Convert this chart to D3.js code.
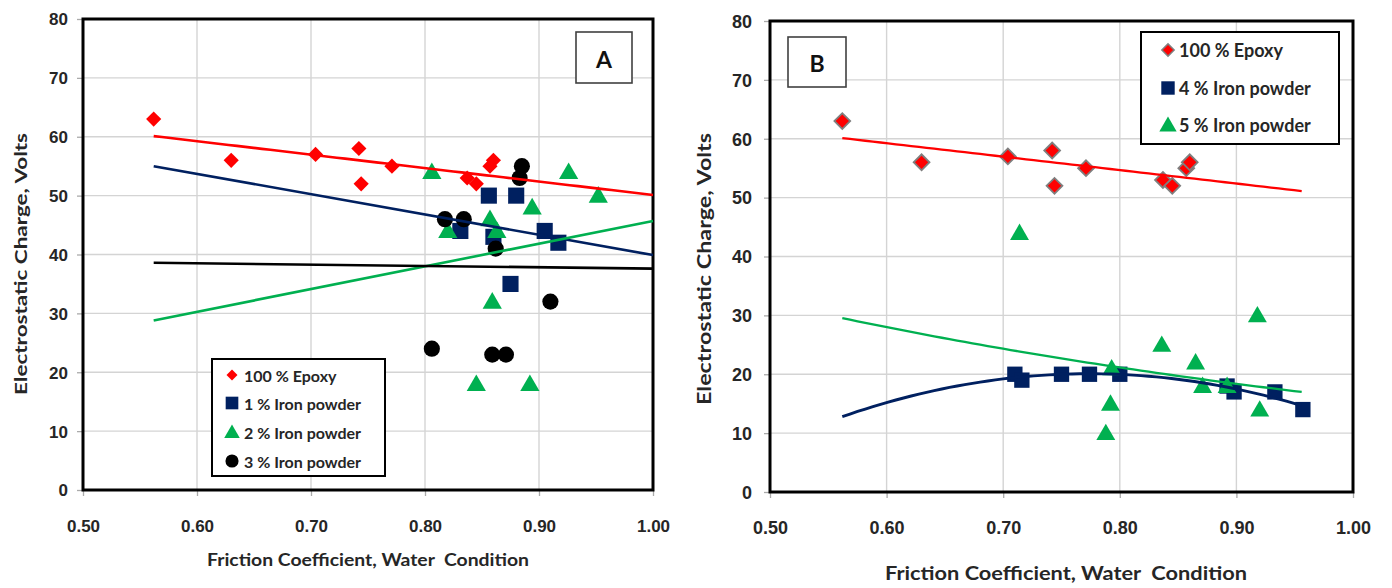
<!DOCTYPE html>
<html><head><meta charset="utf-8">
<script src="https://cdn.jsdelivr.net/npm/d3@7"></script>
<style>
body{margin:0;background:#fff;}
svg{display:block;font-family:Lato,'Open Sans',sans-serif;font-weight:700;}
</style>
</head><body>
<svg id="c" width="1392" height="588"></svg>
<script>
// ---------- data ----------
const xTicks = [0.50, 0.60, 0.70, 0.80, 0.90, 1.00];
const yTicks = [0, 10, 20, 30, 40, 50, 60, 70, 80];

const epoxyX = [0.562, 0.630, 0.704, 0.742, 0.744, 0.771, 0.837, 0.845, 0.857, 0.860];
const epoxyY = [63, 56, 57, 58, 52, 55, 53, 52, 55, 56];

// Panel A
const fe1X = [0.856, 0.880, 0.831, 0.860, 0.905, 0.917, 0.875];
const fe1Y = [50, 50, 44, 43, 44, 42, 35];
const fe2X = [0.806, 0.926, 0.952, 0.894, 0.857, 0.820, 0.863, 0.859, 0.845, 0.892];
const fe2Y = [54, 54, 50, 48, 46, 44, 44, 32, 18, 18];
const fe3X = [0.885, 0.883, 0.8175, 0.834, 0.862, 0.910, 0.806, 0.859, 0.871];
const fe3Y = [55, 53, 46, 46, 41, 32, 24, 23, 23];
// Panel A trend lines (start/end values)
const trendXA = [0.562, 1.00];
const trendFe1A = [55.0, 39.9];
const trendFe2A = [28.8, 45.7];
const trendFe3A = [38.6, 37.6];

// Panel B
const fe4X = [0.710, 0.716, 0.750, 0.774, 0.800, 0.892, 0.898, 0.933, 0.957];
const fe4Y = [20, 19, 20, 20, 20, 18, 17, 17, 14];
const fe5X = [0.714, 0.918, 0.836, 0.865, 0.793, 0.792, 0.788, 0.871, 0.892, 0.920];
const fe5Y = [44, 30, 25, 22, 21, 15, 10, 18, 18, 14];
const trendXB = [0.562, 0.956];

const legendA = ["100 % Epoxy", "1 % Iron powder", "2 % Iron powder", "3 % Iron powder"];
const legendB = ["100 % Epoxy", "4 % Iron powder", "5 % Iron powder"];
const xTitle = "Friction Coefficient, Water\u00a0\u00a0Condition";
const yTitle = "Electrostatic Charge, Volts";

// ---------- helpers ----------
const RED = "#ff0000", NAVY = "#002060", GREEN = "#00b050", BLACK = "#000000";
function linFit(xs, ys) {
  const n = xs.length, mx = d3.mean(xs), my = d3.mean(ys);
  let sxy = 0, sxx = 0;
  for (let i = 0; i < n; i++) { sxy += (xs[i]-mx)*(ys[i]-my); sxx += (xs[i]-mx)**2; }
  const b = sxy/sxx; return x => my + b*(x-mx);
}
function expFit(xs, ys) {
  const f = linFit(xs, ys.map(Math.log)); return x => Math.exp(f(x));
}
function quadFit(xs, ys) {
  const s = k => d3.sum(xs, x => x**k);
  const t = k => d3.sum(xs, (x,i) => x**k*ys[i]);
  const M = [[s(0),s(1),s(2),t(0)],[s(1),s(2),s(3),t(1)],[s(2),s(3),s(4),t(2)]];
  for (let i = 0; i < 3; i++) {
    for (let j = i+1; j < 3; j++) {
      const r = M[j][i]/M[i][i];
      for (let k = i; k < 4; k++) M[j][k] -= r*M[i][k];
    }
  }
  const c = [0,0,0];
  for (let i = 2; i >= 0; i--) {
    let v = M[i][3]; for (let k = i+1; k < 3; k++) v -= M[i][k]*c[k];
    c[i] = v/M[i][i];
  }
  return x => c[0] + c[1]*x + c[2]*x*x;
}
function shape(g, type, cx, cy, size, fill, stroke, sw) {
  let p;
  if (type === "diamond") {
    p = g.append("path").attr("d", d3.symbol(d3.symbolSquare, size)())
      .attr("transform", `translate(${cx},${cy}) rotate(45)`);
  } else {
    const t = {square: d3.symbolSquare, triangle: d3.symbolTriangle, circle: d3.symbolCircle}[type];
    p = g.append("path").attr("d", d3.symbol(t, size)())
      .attr("transform", `translate(${cx},${cy + (type==="triangle" ? 1.5 : 0)})`);
  }
  p.attr("fill", fill);
  if (stroke) p.attr("stroke", stroke).attr("stroke-width", sw);
  return p;
}

const svg = d3.select("#c");

function panel(cfg) {
  const g = svg.append("g");
  const x = d3.scaleLinear().domain([0.5, 1.0]).range([cfg.x0, cfg.x1]);
  const y = d3.scaleLinear().domain([0, 80]).range([cfg.y1, cfg.y0]);
  // grid
  g.append("g").selectAll("line").data(xTicks.slice(1, -1)).join("line")
    .attr("x1", d => x(d)).attr("x2", d => x(d)).attr("y1", cfg.y0).attr("y2", cfg.y1)
    .attr("stroke", "#d4d4d4").attr("stroke-width", 1.4);
  g.append("g").selectAll("line").data(yTicks.slice(1, -1)).join("line")
    .attr("y1", d => y(d)).attr("y2", d => y(d)).attr("x1", cfg.x0).attr("x2", cfg.x1)
    .attr("stroke", "#d4d4d4").attr("stroke-width", 1.4);
  // axes
  const ax = g.append("g").attr("transform", `translate(0,${cfg.y1})`)
    .call(d3.axisBottom(x).tickValues(xTicks).tickFormat(d3.format(".2f")).tickSize(6).tickPadding(0));
  const ay = g.append("g").attr("transform", `translate(${cfg.x0},0)`)
    .call(d3.axisLeft(y).tickValues(yTicks).tickFormat(d3.format("d")).tickSize(6).tickPadding(cfg.yPad));
  [ax, ay].forEach(a => {
    a.select(".domain").remove();
    a.selectAll(".tick line").attr("stroke", "#aaaaaa").attr("stroke-width", 1.3);
    a.selectAll("text").attr("font-family", null).attr("font-size", cfg.tickFont)
      .attr("fill", "#262626").attr("font-weight", 700);
  });
  ax.selectAll("text").attr("y", cfg.xLabDy).attr("dy", "0.35em");
  ay.selectAll("text").attr("dy", "0.35em");
  // frame
  g.append("rect").attr("x", cfg.x0).attr("y", cfg.y0)
    .attr("width", cfg.x1 - cfg.x0).attr("height", cfg.y1 - cfg.y0)
    .attr("fill", "none").attr("stroke", "#000").attr("stroke-width", 3);
  // titles
  g.append("text").attr("x", cfg.xtX).attr("y", cfg.xtY).attr("text-anchor", "middle")
    .attr("dominant-baseline", "central").attr("font-size", cfg.xtFont).attr("fill", "#262626")
    .attr("textLength", cfg.xtLen).attr("lengthAdjust", "spacingAndGlyphs").text(xTitle);
  g.append("text").attr("transform", `translate(${cfg.ytX},${cfg.ytY}) rotate(-90)`)
    .attr("text-anchor", "middle").attr("dominant-baseline", "central")
    .attr("font-size", cfg.ytFont).attr("fill", "#262626")
    .attr("textLength", cfg.ytLen).attr("lengthAdjust", "spacingAndGlyphs").text(yTitle);
  // label box
  g.append("rect").attr("x", cfg.lb[0]).attr("y", cfg.lb[1]).attr("width", cfg.lb[2]).attr("height", cfg.lb[3])
    .attr("fill", "#fff").attr("stroke", "#404040").attr("stroke-width", 1.6);
  g.append("text").attr("x", cfg.lb[0] + cfg.lb[2]/2).attr("y", cfg.lb[1] + cfg.lb[3]/2 + 1)
    .attr("text-anchor", "middle").attr("dominant-baseline", "central")
    .attr("font-size", 23).attr("fill", "#111").text(cfg.letter);
  return {g, x, y};
}

function scatter(p, xs, ys, type, size, fill, stroke, sw) {
  const grp = p.g.append("g");
  xs.forEach((xv, i) => shape(grp, type, p.x(xv), p.y(ys[i]), size, fill, stroke, sw));
}
function trend(p, f, dom, color, w) {
  const xs = d3.range(0, 61).map(i => dom[0] + (dom[1]-dom[0])*i/60);
  p.g.append("path").datum(xs)
    .attr("d", d3.line().x(d => p.x(d)).y(d => p.y(f(d))))
    .attr("fill", "none").attr("stroke", color).attr("stroke-width", w);
}
function segTrend(p, dom, vals, color, w) {
  p.g.append("path").datum([0, 1])
    .attr("d", d3.line().x(i => p.x(dom[i])).y(i => p.y(vals[i])))
    .attr("fill", "none").attr("stroke", color).attr("stroke-width", w);
}
function legend(p, box, items, mx, tx, ys, font) {
  const g = p.g.append("g");
  g.append("rect").attr("x", box[0]).attr("y", box[1]).attr("width", box[2]).attr("height", box[3])
    .attr("fill", "#fff").attr("stroke", "#000").attr("stroke-width", 2);
  items.forEach((it, i) => {
    shape(g, it.type, mx, ys[i], it.size, it.fill, it.stroke, it.sw);
    g.append("text").attr("x", tx).attr("y", ys[i]).attr("dominant-baseline", "central")
      .attr("font-size", font).attr("fill", "#262626").text(it.label);
  });
}

// ---------- Panel A ----------
const A = panel({x0: 83, x1: 653, y0: 19, y1: 490, yPad: 9, tickFont: 17, xLabDy: 36,
  xtX: 368, xtY: 560, xtFont: 16.5, xtLen: 322, ytX: 20, ytY: 264, ytFont: 17, ytLen: 262,
  lb: [576, 32, 56, 51], letter: "A"});
scatter(A, epoxyX, epoxyY, "diamond", 115, RED);
scatter(A, fe1X, fe1Y, "square", 260, NAVY);
scatter(A, fe2X, fe2Y, "triangle", 160, GREEN);
scatter(A, fe3X, fe3Y, "circle", 205, BLACK);
trend(A, linFit(epoxyX, epoxyY), trendXA, RED, 2.6);
segTrend(A, trendXA, trendFe1A, NAVY, 2.6);
segTrend(A, trendXA, trendFe2A, GREEN, 2.6);
segTrend(A, trendXA, trendFe3A, BLACK, 2.6);
legend(A, [212, 359, 173, 117], [
  {label: legendA[0], type: "diamond", size: 60, fill: RED},
  {label: legendA[1], type: "square", size: 160, fill: NAVY},
  {label: legendA[2], type: "triangle", size: 105, fill: GREEN},
  {label: legendA[3], type: "circle", size: 135, fill: BLACK}
], 232, 244, [375, 403, 432, 461], 16);

// ---------- Panel B ----------
const B = panel({x0: 770, x1: 1353, y0: 21, y1: 492, yPad: 12, tickFont: 18, xLabDy: 36,
  xtX: 1066, xtY: 573, xtFont: 18.5, xtLen: 362, ytX: 704, ytY: 269, ytFont: 18, ytLen: 272,
  lb: [788, 37, 58, 50], letter: "B"});
scatter(B, epoxyX, epoxyY, "diamond", 125, RED, "#7f7f7f", 1.8);
scatter(B, fe4X, fe4Y, "square", 235, NAVY);
scatter(B, fe5X, fe5Y, "triangle", 155, GREEN);
trend(B, linFit(epoxyX, epoxyY), trendXB, RED, 2.3);
trend(B, quadFit(fe4X, fe4Y), trendXB, NAVY, 2.9);
trend(B, expFit(fe5X, fe5Y), trendXB, GREEN, 2.3);
legend(B, [1141, 32, 198, 112], [
  {label: legendB[0], type: "diamond", size: 75, fill: RED, stroke: "#7f7f7f", sw: 1.5},
  {label: legendB[1], type: "square", size: 180, fill: NAVY},
  {label: legendB[2], type: "triangle", size: 130, fill: GREEN}
], 1168, 1179, [50, 88, 125], 18);
</script>
</body></html>
